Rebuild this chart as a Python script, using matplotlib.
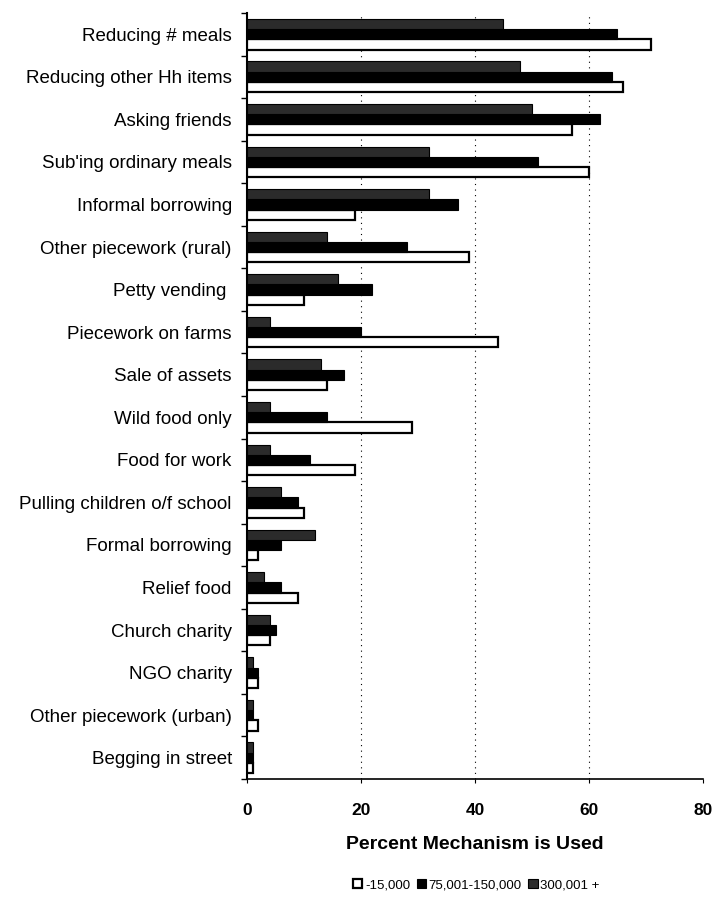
import matplotlib
matplotlib.use('Agg')
import matplotlib.pyplot as plt
import numpy as np

plt.rcParams['font.family'] = ['Liberation Sans', 'DejaVu Sans']

categories = [
    'Reducing # meals', 'Reducing other Hh items', 'Asking friends',
    "Sub'ing ordinary meals", 'Informal borrowing', 'Other piecework (rural)',
    'Petty vending ', 'Piecework on farms', 'Sale of assets', 'Wild food only',
    'Food for work', 'Pulling children o/f school', 'Formal borrowing',
    'Relief food', 'Church charity', 'NGO charity', 'Other piecework (urban)',
    'Begging in street',
]
low_income = [71, 66, 57, 60, 19, 39, 10, 44, 14, 29, 19, 10, 2, 9, 4, 2, 2, 1]
mid_income = [65, 64, 62, 51, 37, 28, 22, 20, 17, 14, 11, 9, 6, 6, 5, 2, 1, 1]
high_income = [45, 48, 50, 32, 32, 14, 16, 4, 13, 4, 4, 6, 12, 3, 4, 1, 1, 1]
series_labels = ['-15,000', '75,001-150,000', '300,001 +']
x_ticks = [0, 20, 40, 60, 80]


def main():
    fig = plt.figure(figsize=(7.12, 9), dpi=100)
    ax = fig.add_axes([0.347, 0.1344, 0.64, 0.8512])

    y = np.arange(len(categories))
    h = 0.24

    b_low = ax.barh(y + h, low_income, height=h, color='white',
                    edgecolor='black', linewidth=1.6, zorder=3)
    b_mid = ax.barh(y, mid_income, height=h, color='black',
                    edgecolor='black', linewidth=0.8, zorder=3)
    b_high = ax.barh(y - h, high_income, height=h, color='#2b2b2b',
                     edgecolor='black', linewidth=0.8, zorder=3)

    ax.set_ylim(len(categories) - 0.5, -0.5)
    ax.set_xlim(0, 80)

    ax.set_yticks(y)
    ax.set_yticklabels(categories, fontsize=13.5)
    ax.tick_params(axis='y', which='major', length=0, pad=11)
    ax.set_yticks(np.arange(-0.5, len(categories), 1), minor=True)
    ax.tick_params(axis='y', which='minor', length=4, width=1, direction='out')

    ax.set_xticks(x_ticks)
    ax.set_xticklabels([str(t) for t in x_ticks], fontsize=12.5,
                       fontweight='bold')
    ax.tick_params(axis='x', length=3, pad=14)

    for gx in x_ticks[1:-1]:
        ax.axvline(gx, color='black', linestyle=(0, (1, 4)), linewidth=0.8,
                   zorder=1)

    ax.spines['top'].set_visible(False)
    ax.spines['right'].set_visible(False)
    ax.spines['left'].set_linewidth(1.5)
    ax.spines['bottom'].set_linewidth(1.2)

    ax.set_xlabel('Percent Mechanism is Used', fontsize=14, fontweight='bold',
                  labelpad=13)

    fig.legend([b_low, b_mid, b_high], series_labels, loc='center',
               bbox_to_anchor=(0.669, 0.0167), ncol=3, frameon=False,
               fontsize=9.5, handlelength=0.7, handleheight=0.7,
               handletextpad=0.2, columnspacing=0.5)

    fig.savefig('out.png', dpi=100)


if __name__ == '__main__':
    main()
